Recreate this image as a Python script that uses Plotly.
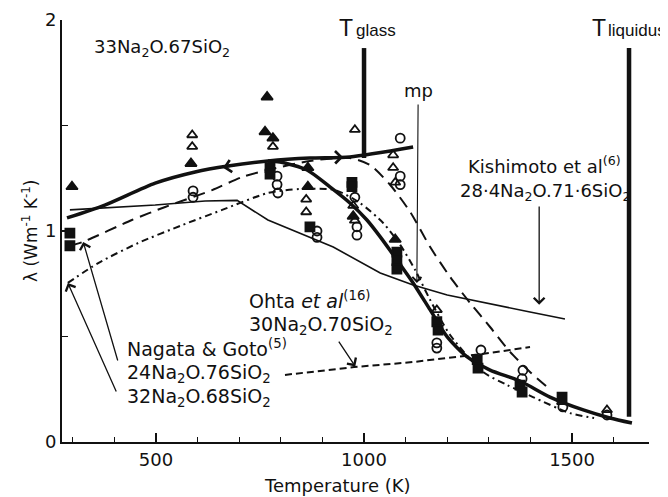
import plotly.graph_objects as go

# ---------------- data ----------------
# thick solid: heating branch of glass
heat_T = [286, 377, 498, 594, 673, 769, 870, 966, 1118]
heat_k = [1.062, 1.123, 1.227, 1.280, 1.308, 1.332, 1.346, 1.351, 1.398]
# thick solid: main curve (falling)
melt_T = [769, 798, 863, 918, 966, 1007, 1039, 1079, 1118, 1159, 1200, 1248, 1303, 1375, 1447, 1527, 1591, 1644]
melt_k = [1.332, 1.327, 1.289, 1.209, 1.133, 1.052, 0.972, 0.863, 0.754, 0.626, 0.498, 0.403, 0.341, 0.289, 0.213, 0.152, 0.114, 0.090]
# thin solid: Kishimoto et al
kish_T = [293, 498, 618, 695, 769, 846, 926, 1039, 1118, 1200, 1279, 1399, 1483]
kish_k = [1.100, 1.123, 1.142, 1.145, 1.052, 0.991, 0.924, 0.801, 0.744, 0.697, 0.664, 0.616, 0.583]
# long dash: Nagata & Goto 24Na2O.76SiO2
ng24_T = [293, 324, 442, 522, 635, 707, 769, 870, 966, 1014, 1063, 1111, 1159, 1207, 1255, 1303, 1351, 1399, 1440]
ng24_k = [0.929, 0.948, 1.052, 1.114, 1.194, 1.256, 1.289, 1.332, 1.346, 1.313, 1.218, 1.090, 0.924, 0.782, 0.659, 0.545, 0.427, 0.332, 0.261]
# dash-dot: Nagata & Goto 32Na2O.68SiO2
ng32_T = [288, 361, 457, 563, 659, 769, 846, 930, 990, 1046, 1087, 1123, 1159, 1207, 1286, 1344, 1406, 1495, 1553]
ng32_k = [0.754, 0.848, 0.943, 1.028, 1.100, 1.180, 1.199, 1.194, 1.133, 1.038, 0.934, 0.815, 0.673, 0.507, 0.332, 0.270, 0.213, 0.137, 0.114]
# short dash: Ohta et al 30Na2O.70SiO2
ohta_T = [810, 976, 1118, 1224, 1303, 1399]
ohta_k = [0.318, 0.355, 0.379, 0.403, 0.422, 0.450]

# measured points
tri_f_T = [298, 584, 767, 762, 781, 865, 865, 974, 1075]
tri_f_k = [1.21, 1.32, 1.635, 1.47, 1.44, 1.30, 1.21, 1.07, 0.96]
tri_o_T = [587, 587, 781, 861, 861, 978, 974, 978, 1070, 1070, 1075, 1175, 1476, 1584]
tri_o_k = [1.455, 1.40, 1.40, 1.15, 1.09, 1.48, 1.12, 1.05, 1.36, 1.30, 1.23, 0.626, 0.19, 0.152]
sq_f_T = [293, 293, 774, 774, 870, 971, 971, 1079, 1079, 1079, 1175, 1178, 1272, 1274, 1375, 1380, 1476]
sq_f_k = [0.99, 0.93, 1.30, 1.27, 1.02, 1.23, 1.21, 0.90, 0.86, 0.82, 0.57, 0.53, 0.39, 0.35, 0.27, 0.237, 0.213]
circ_o_T = [589, 589, 791, 791, 793, 887, 887, 978, 983, 983, 1087, 1087, 1087, 1175, 1175, 1281, 1382, 1380, 1478, 1584]
circ_o_k = [1.19, 1.16, 1.26, 1.22, 1.18, 1.00, 0.97, 1.16, 1.02, 0.98, 1.44, 1.26, 1.22, 0.47, 0.445, 0.436, 0.34, 0.30, 0.166, 0.128]

# reference temperatures
T_GLASS = 1000
T_LIQUIDUS = 1637
T_MP = 1130

x_ticks = [500, 1000, 1500]
y_ticks = [0, 1, 2]

FONT = "DejaVu Sans, Liberation Sans, Arial, sans-serif"
FONT_T = "Liberation Sans, Arial, sans-serif"
BLACK = "#111111"

fig = go.Figure()

def line(T, k, width, dash="solid", shape="spline", smoothing=0.7):
    fig.add_trace(go.Scatter(x=T, y=k, mode="lines",
                             line=dict(color=BLACK, width=width, dash=dash, shape=shape, smoothing=smoothing),
                             hoverinfo="skip", showlegend=False))

line(heat_T, heat_k, 3.5)
line(melt_T, melt_k, 3.5)
line(kish_T, kish_k, 1.6, shape="linear")
line(ng24_T, ng24_k, 2, dash="12px,7px")
line(ng32_T, ng32_k, 2, dash="7px,4px,2px,4px")
line(ohta_T, ohta_k, 2, dash="7px,4px", shape="linear")

def pts(T, k, symbol, size):
    fig.add_trace(go.Scatter(x=T, y=k, mode="markers",
                             marker=dict(symbol=symbol, size=size, color=BLACK,
                                         line=dict(color=BLACK, width=1.8)),
                             hoverinfo="skip", showlegend=False))

pts(tri_f_T, tri_f_k, "triangle-up", 10)
pts(tri_o_T, tri_o_k, "triangle-up-open", 9)
pts(sq_f_T, sq_f_k, "square", 9)
pts(circ_o_T, circ_o_k, "circle-open", 9)

# vertical reference bars
fig.add_shape(type="line", x0=T_GLASS, x1=T_GLASS, y0=1.346, y1=1.867,
              line=dict(color=BLACK, width=4.5), xref="x", yref="y")
fig.add_shape(type="line", x0=T_LIQUIDUS, x1=T_LIQUIDUS, y0=0.12, y1=1.867,
              line=dict(color=BLACK, width=4.5), xref="x", yref="y")

annots = []

def txt(x, y, s, size=19, xanchor="left", family=FONT):
    annots.append(dict(x=x, y=y, xref="x", yref="y", text=s, showarrow=False,
                       xanchor=xanchor, yanchor="middle",
                       font=dict(family=family, size=size, color=BLACK)))

def arrow(x0, y0, x1, y1, width=1.3):
    annots.append(dict(x=x1, y=y1, ax=x0, ay=y0, xref="x", yref="y", axref="x", ayref="y",
                       text="", showarrow=True, arrowhead=4, arrowsize=1.6,
                       arrowwidth=width, arrowcolor=BLACK))

txt(346, 1.867, "33Na<sub>2</sub>O.67SiO<sub>2</sub>", size=18)
txt(936, 1.96, "T", size=23, family=FONT_T)
txt(976, 1.948, "glass", size=17, family=FONT_T)
txt(1543, 1.96, "T", size=23, family=FONT_T)
txt(1581, 1.948, "liquidus", size=17, family=FONT_T)
txt(T_MP, 1.665, "mp", size=18, xanchor="center")
txt(1434, 1.313, "Kishimoto et al<sup>(6)</sup>", size=18, xanchor="center")
txt(1434, 1.185, "28·4Na<sub>2</sub>O.71·6SiO<sub>2</sub>", size=18, xanchor="center")
txt(719, 0.673, "Ohta <i>et al</i><sup>(16)</sup>")
txt(719, 0.550, "30Na<sub>2</sub>O.70SiO<sub>2</sub>")
txt(425, 0.445, "Nagata &amp; Goto<sup>(5)</sup>")
txt(425, 0.327, "24Na<sub>2</sub>O.76SiO<sub>2</sub>")
txt(425, 0.213, "32Na<sub>2</sub>O.68SiO<sub>2</sub>")

arrow(T_MP, 1.607, 1127, 0.754, width=1.1)
arrow(1421, 1.123, 1421, 0.65)
arrow(937, 0.483, 979, 0.358)
arrow(409, 0.379, 325, 0.948)
arrow(406, 0.232, 288, 0.754)
# direction marks on the glass curve
arrow(705, 1.318, 661, 1.300, width=1.5)
arrow(915, 1.349, 950, 1.350, width=1.5)

# axis titles
annots.append(dict(x=-0.0545, y=0.5, xref="paper", yref="paper", showarrow=False,
                   text="λ (Wm<sup>-1</sup> K<sup>-1</sup>)", textangle=-90,
                   xanchor="center", yanchor="middle",
                   font=dict(family=FONT, size=17, color=BLACK)))
annots.append(dict(x=0.4685, y=-0.102, xref="paper", yref="paper", showarrow=False,
                   text="Temperature (K)", xanchor="center", yanchor="middle",
                   font=dict(family=FONT, size=18, color=BLACK)))

# the page adds an 8px body margin, so the figure is sized to fit the window
fig.update_layout(
    width=660, height=489,
    margin=dict(l=54, r=19, t=12, b=55, autoexpand=False),
    paper_bgcolor="white", plot_bgcolor="white",
    font=dict(family=FONT, size=18, color=BLACK),
    annotations=annots,
    showlegend=False,
)
fig.update_xaxes(range=[274, 1685], tickvals=x_ticks, ticks="inside", ticklen=9, tickwidth=1.5,
                 tickcolor=BLACK, showline=True, linecolor=BLACK, linewidth=2, showgrid=False,
                 zeroline=False, automargin=False,
                 minor=dict(dtick=100, tick0=0, ticks="inside", ticklen=5,
                            tickcolor=BLACK, tickwidth=1.2, showgrid=False),
                 tickfont=dict(size=18))
fig.update_yaxes(range=[0, 2], tickvals=y_ticks, ticks="inside", ticklen=8, tickwidth=1.5,
                 tickcolor=BLACK, showline=True, linecolor=BLACK, linewidth=2, showgrid=False,
                 zeroline=False, automargin=False,
                 minor=dict(dtick=0.5, ticks="inside", ticklen=6,
                            tickcolor=BLACK, tickwidth=1.2, showgrid=False),
                 tickfont=dict(size=18))

fig.write_html("out.html")
